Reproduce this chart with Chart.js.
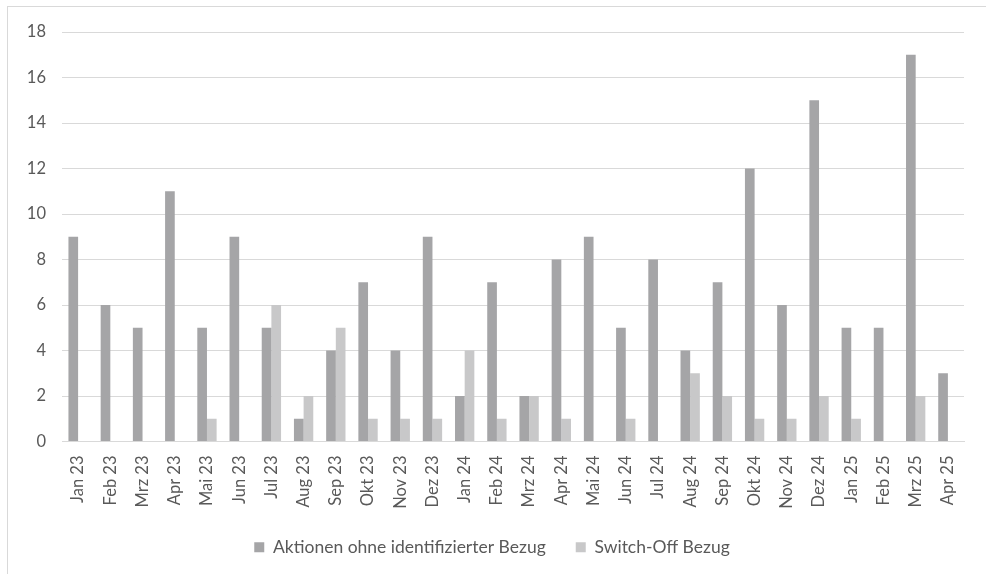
<!DOCTYPE html>
<html>
<head>
<meta charset="utf-8">
<script src="https://cdn.jsdelivr.net/npm/chart.js@4.4.1/dist/chart.umd.min.js"></script>
<style>
  html, body { margin: 0; padding: 0; background: #fff; overflow: hidden; }
  #frame { position: absolute; left: 7px; top: 6px; width: 1000px; height: 600px; border: 1px solid #d9d9d9; }
  #wrap { position: absolute; left: 0; top: 0; width: 986px; height: 574px; }
</style>
</head>
<body>
<div id="frame"></div>
<div id="wrap"><canvas id="chart"></canvas></div>
<script>
// Months Jan 23 .. Apr 25
const months = ['Jan 23','Feb 23','Mrz 23','Apr 23','Mai 23','Jun 23','Jul 23','Aug 23','Sep 23','Okt 23','Nov 23','Dez 23',
                'Jan 24','Feb 24','Mrz 24','Apr 24','Mai 24','Jun 24','Jul 24','Aug 24','Sep 24','Okt 24','Nov 24','Dez 24',
                'Jan 25','Feb 25','Mrz 25','Apr 25'];

const aktionen = [9, 6, 5, 11, 5, 9, 5, 1, 4, 7, 4, 9,
                  2, 7, 2, 8, 9, 5, 8, 4, 7, 12, 6, 15,
                  5, 5, 17, 3];

const switchOff = [0, 0, 0, 0, 1, 0, 6, 2, 5, 1, 1, 1,
                   4, 1, 2, 1, 0, 1, 0, 3, 2, 1, 1, 2,
                   1, 0, 2, 0];

const textColor = '#595959';
const gridColor = '#d9d9d9';
const fontFamily = 'Lato, "Open Sans", sans-serif';

const ctx = document.getElementById('chart').getContext('2d');
new Chart(ctx, {
    type: 'bar',
    data: {
        labels: months,
        datasets: [
            {
                label: 'Aktionen ohne identifizierter Bezug',
                data: aktionen,
                backgroundColor: '#a5a5a7',
                categoryPercentage: 0.6,
                barPercentage: 1.0
            },
            {
                label: 'Switch-Off Bezug',
                data: switchOff,
                backgroundColor: '#c8c8c9',
                categoryPercentage: 0.6,
                barPercentage: 1.0
            }
        ]
    },
    options: {
        responsive: true,
        maintainAspectRatio: false,
        animation: false,
        layout: { padding: { left: 20, right: 22, top: 32, bottom: 8 } },
        plugins: {
            tooltip: { enabled: false },
            legend: {
                position: 'bottom',
                labels: {
                    color: textColor,
                    font: { family: fontFamily, size: 17.5 },
                    boxWidth: 10,
                    boxHeight: 10,
                    padding: 30
                }
            }
        },
        scales: {
            x: {
                grid: { display: false },
                border: { color: gridColor, width: 1 },
                ticks: {
                    color: textColor,
                    font: { family: fontFamily, size: 16.5 },
                    minRotation: 90,
                    maxRotation: 90,
                    autoSkip: false,
                    padding: 6
                },
                afterFit: (scale) => { scale.height = 67; }
            },
            y: {
                min: 0,
                max: 18,
                grid: { color: gridColor, drawTicks: false },
                border: { display: false },
                ticks: {
                    stepSize: 2,
                    color: textColor,
                    font: { family: fontFamily, size: 16.5 },
                    padding: 16
                },
                afterFit: (scale) => { scale.width = 42; }
            }
        }
    }
});
</script>
</body>
</html>
